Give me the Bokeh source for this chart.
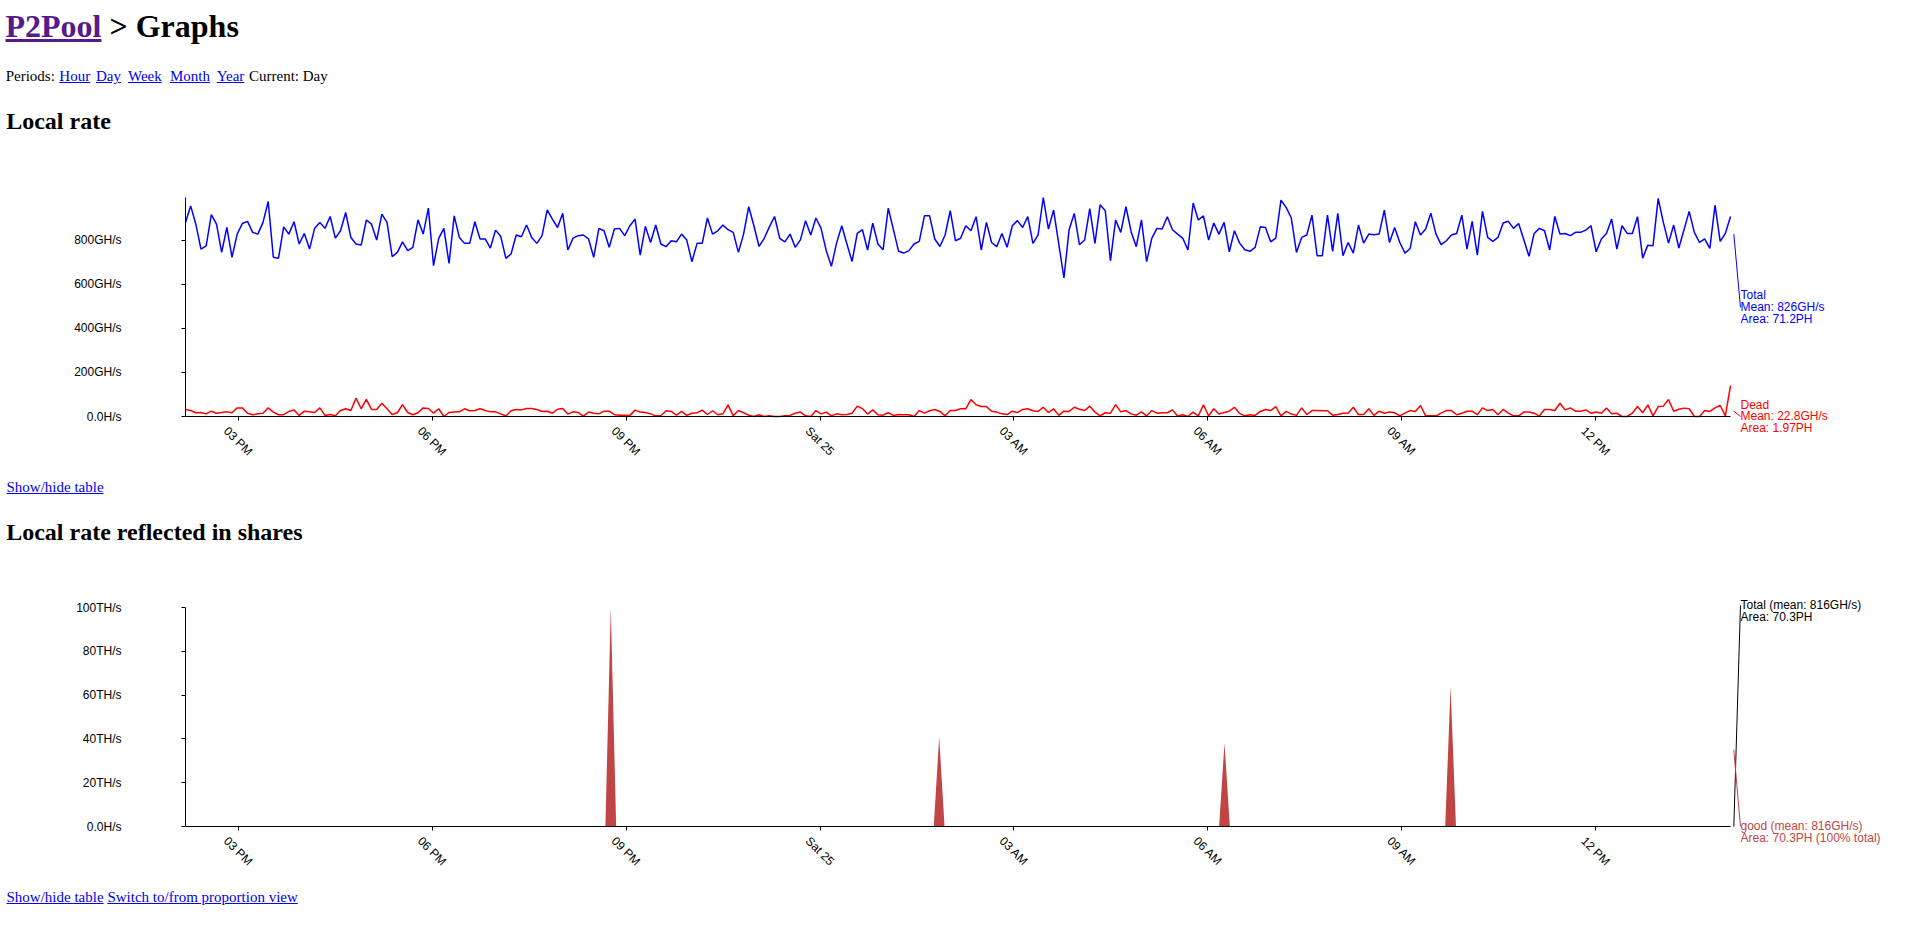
import math
import numpy as np
from bokeh.plotting import figure
from bokeh.models import Range1d, FixedTicker, Label, Div
from bokeh.layouts import column
from bokeh.embed import file_html
from bokeh.resources import INLINE

# ---------------- data ----------------
# time axis: hours counted from Friday 00:00
time_ticks = [15, 18, 21, 24, 27, 30, 33, 36]
time_tick_labels = ["03 PM", "06 PM", "09 PM", "Sat 25", "03 AM", "06 AM", "09 AM", "12 PM"]
first_hour = 14.185
last_hour = 38.084
tail_hours = [38.135, 38.238]

# Local rate (GH/s)
rate_ticks = [0, 200, 400, 600, 800]
rate_tick_labels = ["0.0H/s", "200GH/s", "400GH/s", "600GH/s", "800GH/s"]
total_rate = [
    880, 955, 872, 759, 774, 915, 872, 744, 857, 722,
    827, 875, 885, 835, 827, 880, 975, 722, 718, 860,
    827, 883, 782, 830, 759, 854, 880, 853, 907, 809,
    842, 925, 812, 782, 777, 891, 872, 800, 918, 880,
    725, 744, 792, 752, 767, 892, 827, 945, 684, 808,
    853, 694, 910, 812, 785, 785, 883, 805, 805, 764,
    845, 817, 717, 737, 823, 815, 868, 812, 785, 820,
    937, 895, 857, 921, 755, 809, 820,
    823, 805, 722, 853, 842, 767, 850, 853, 820, 865,
    895, 732, 862, 789, 868, 782, 770, 797, 792, 827,
    800, 702, 785, 785, 900, 827, 842, 868, 847, 835,
    744, 827, 951, 865, 771, 808, 860, 907, 808, 792,
    827, 767, 801, 888, 823, 900, 853, 752, 681, 786,
    865, 782, 703, 830, 847, 755, 877, 782, 756, 945,
    847, 749, 741, 752, 782, 794, 910, 910, 805, 771,
    823, 933, 797, 808, 865,
    842, 906, 755, 880, 789, 770, 830, 767, 865, 888,
    857, 906, 785, 824, 993, 850, 936, 782, 628, 847,
    921, 779, 800, 943, 785, 960, 933, 706, 891, 835,
    951, 838, 770, 892, 702, 808, 853, 850, 906, 847,
    827, 808, 755, 968, 891, 910, 800, 877, 827, 880,
    747, 842, 786, 756, 749, 767, 860, 857, 792, 809,
    981, 948, 900, 744, 812, 823, 913, 729, 729, 913,
    749, 921, 729, 789,
    741, 868, 786, 827, 824, 827, 936, 789, 857, 789,
    741, 762, 883, 823, 850, 922, 827, 779, 797, 823,
    830, 913, 759, 885, 732, 930, 812, 794, 812, 877,
    885, 853, 875, 801, 726, 830, 853, 842, 755, 907,
    827, 830, 820, 835, 835, 845, 865, 747, 805, 830,
    895, 759, 865, 830, 830, 906, 718, 777, 774, 989,
    880, 786, 868, 764, 847, 930, 835, 789, 805, 762,
    958, 794, 830, 907,
]
dead_rate = [
    32, 27, 17, 18, 12, 24, 15, 18, 21, 17,
    39, 39, 15, 8, 12, 15, 39, 20, 8, 8,
    23, 30, 5, 24, 21, 18, 39, 5, 9, 3,
    27, 35, 27, 83, 35, 78, 32, 32, 60, 35,
    9, 17, 54, 18, 8, 17, 39, 36, 15, 35,
    0, 18, 20, 21, 35, 26, 27, 35, 27, 21,
    21, 12, 2, 26, 32, 30, 36, 36, 32, 23,
    24, 15, 33, 36, 11, 21, 18,
    2, 20, 15, 12, 24, 24, 8, 6, 6, 5,
    29, 20, 18, 12, 3, 3, 26, 23, 6, 23,
    5, 15, 17, 29, 9, 26, 8, 12, 53, 3,
    27, 17, 6, 0, 8, 0, 3, 0, 0, 3,
    5, 15, 20, 3, 0, 27, 12, 20, 3, 12,
    8, 9, 15, 47, 36, 11, 30, 8, 6, 17,
    5, 9, 8, 8, 0, 27, 15, 26, 32, 23,
    3, 27, 27, 35, 35,
    77, 53, 45, 45, 24, 20, 12, 9, 24, 18,
    32, 35, 26, 23, 42, 18, 35, 5, 24, 23,
    42, 33, 27, 47, 20, 3, 17, 15, 54, 21,
    27, 12, 6, 21, 3, 27, 15, 17, 17, 30,
    2, 8, 0, 20, 3, 53, 2, 35, 11, 18,
    24, 42, 14, 3, 8, 5, 23, 32, 27, 45,
    3, 23, 11, 5, 39, 9, 27, 27, 26, 26,
    6, 9, 15, 15,
    42, 9, 9, 35, 5, 24, 15, 20, 17, 3,
    15, 27, 23, 50, 3, 3, 3, 15, 27, 27,
    8, 15, 24, 24, 8, 39, 27, 32, 8, 32,
    15, 3, 3, 20, 20, 15, 2, 32, 32, 27,
    60, 30, 39, 24, 24, 30, 15, 20, 15, 38,
    12, 15, 0, 0, 15, 45, 17, 53, 3, 45,
    47, 77, 24, 33, 38, 35, 0, 0, 27, 23,
    39, 50, 3, 140,
]
total_tail = [827, 495]
dead_tail = [24, 0]
rate_labels_total = ["Total", "Mean: 826GH/s", "Area: 71.2PH"]
rate_labels_dead = ["Dead", "Mean: 22.8GH/s", "Area: 1.97PH"]

# Local rate reflected in shares (TH/s)
share_ticks = [0, 20, 40, 60, 80, 100]
share_tick_labels = ["0.0H/s", "20TH/s", "40TH/s", "60TH/s", "80TH/s", "100TH/s"]
share_points = 288
good_spike_hours = [20.77, 25.85, 30.27, 33.73]
good_spike_rates = [100.0, 41.0, 38.0, 64.0]
share_total_tail = [0, 101]
share_good_tail = [35, 0]
share_labels_total = ["Total (mean: 816GH/s)", "Area: 70.3PH"]
share_labels_good = ["good (mean: 816GH/s)", "Area: 70.3PH (100% total)"]

# ---------------- style / geometry ----------------
SANS = "Liberation Sans"
SERIF = "Liberation Serif"
BLUE = "#0000ff"
RED = "#ff0000"
GOOD = "#c04545"
W = 1898            # canvas width (page x 0..1898)
H = 320             # canvas height of each chart
LEFT = 185          # frame left (y axis position)
BOTTOM_PAD = 10     # space below frame
PLOT_H = 219        # pixels between zero line and data maximum
PX_PER_HOUR = 64.648


def chart(y_max, zero_from_top, yticks, ylabels):
    # zero_from_top: pixel distance from canvas top to the zero line
    frame_h = H - BOTTOM_PAD
    per_px = y_max / PLOT_H
    y_hi = zero_from_top * per_px
    y_lo = -(frame_h - zero_from_top) * per_px
    x_hi = first_hour + (W - LEFT) / PX_PER_HOUR
    p = figure(width=W, height=H, output_backend="svg", toolbar_location=None, tools="",
               title=None,
               x_range=Range1d(first_hour, x_hi), y_range=Range1d(y_lo, y_hi),
               min_border_left=LEFT, min_border_right=0, min_border_top=0,
               min_border_bottom=BOTTOM_PAD, outline_line_color=None,
               background_fill_color="white", border_fill_color="white")
    p.margin = (0, 0, 0, 0)
    p.grid.visible = False
    xa = p.xaxis[0]
    xa.fixed_location = 0
    xa.ticker = FixedTicker(ticks=time_ticks, minor_ticks=[])
    xa.bounds = (first_hour, last_hour)
    xa.major_label_text_color = None
    xa.major_label_text_font_size = "0px"
    xa.major_label_standoff = 0
    xa.major_tick_in = 0
    xa.major_tick_out = 4
    xa.minor_tick_line_color = None
    xa.axis_line_color = "black"
    xa.major_tick_line_color = "black"
    ya = p.yaxis[0]
    ya.ticker = FixedTicker(ticks=yticks, minor_ticks=[])
    ya.major_label_overrides = {t: l for t, l in zip(yticks, ylabels)}
    ya.bounds = (0, y_max)
    ya.major_tick_in = 0
    ya.major_tick_out = 4
    ya.minor_tick_line_color = None
    ya.axis_line_color = "black"
    ya.major_tick_line_color = "black"
    ya.major_label_standoff = 60
    ya.major_label_text_font = SANS
    ya.major_label_text_font_size = "12px"
    ya.major_label_text_color = "black"
    # rotated time labels
    for t, lab in zip(time_ticks, time_tick_labels):
        p.add_layout(Label(x=t, y=0, text=lab, angle=-math.pi / 4, x_offset=-12.4,
                           y_offset=-12.4, text_align="left", text_baseline="alphabetic",
                           text_font=SANS, text_font_size="12px", text_color="black"))
    return p


def side_labels(p, y, lines, color, offsets):
    for txt, off in zip(lines, offsets):
        p.add_layout(Label(x=tail_hours[-1], y=y, text=txt, x_offset=0, y_offset=off,
                           text_align="left", text_baseline="alphabetic",
                           text_font=SANS, text_font_size="12px", text_color=color))


# chart 1: local rate (canvas page y 150..470, zero line at page y 416)
p1 = chart(max(total_rate), 416 - 150, rate_ticks, rate_tick_labels)
x1 = np.linspace(first_hour, last_hour, len(total_rate))
x1d = np.linspace(first_hour, last_hour, len(dead_rate))
p1.line(x1, total_rate, line_color=BLUE, line_width=1.5)
p1.line(x1d, dead_rate, line_color=RED, line_width=1.5)
p1.line(tail_hours, total_tail, line_color=BLUE, line_width=1)
p1.line(tail_hours, dead_tail, line_color=RED, line_width=1)
side_labels(p1, total_tail[-1], rate_labels_total, BLUE, [12, 0.3, -11.5])
side_labels(p1, dead_tail[-1], rate_labels_dead, RED, [12, 0.3, -11.5])

# chart 2: local rate reflected in shares (canvas page y 560..880, zero at 826)
p2 = chart(max(good_spike_rates), 826 - 560, share_ticks, share_tick_labels)
x2 = np.linspace(first_hour, last_hour, share_points)
good = np.zeros(share_points)
for h, v in zip(good_spike_hours, good_spike_rates):
    good[int(np.argmin(np.abs(x2 - h)))] = v
p2.varea(x=x2, y1=np.zeros(share_points), y2=good, fill_color=GOOD)
p2.line(tail_hours, share_total_tail, line_color="black", line_width=1)
p2.line(tail_hours, share_good_tail, line_color=GOOD, line_width=1)
side_labels(p2, share_total_tail[-1], share_labels_total, "black", [0.2, -11.5])
side_labels(p2, share_good_tail[-1], share_labels_good, GOOD, [0.2, -11.5])


# ---------------- HTML parts ----------------
def item(x, y, html, size, bold=False):
    return ('<div style="position:absolute;left:%spx;top:%spx;white-space:nowrap;'
            'line-height:1;font-family:\'%s\';font-size:%spx;font-weight:%s;color:#000">%s</div>'
            % (x, y, SERIF, size, "bold" if bold else "normal", html))


def link(txt, color="#0000ee"):
    return '<a href="#" style="color:%s;text-decoration:underline">%s</a>' % (color, txt)


def block(items, height):
    html = '<div style="position:relative;width:%dpx;height:%dpx">%s</div>' % (W, height, "".join(items))
    return Div(text=html, width=W, height=height, margin=(0, 0, 0, 0))


head = block([
    item(5.5, 9.9, link("P2Pool", "#551a8b") + " &gt; Graphs", 32, True),
    item(5.7, 69.4, "Periods:", 15),
    item(59.3, 69.4, link("Hour"), 15),
    item(96, 69.4, link("Day"), 15),
    item(128, 69.4, link("Week"), 15),
    item(170, 69.4, link("Month"), 15),
    item(216.7, 69.4, link("Year"), 15),
    item(249, 69.4, "Current: Day", 15),
    item(6.2, 109.2, "Local rate", 24, True),
], 150)

mid = block([
    item(6.5, 10.1, link("Show/hide table"), 15),
    item(6.2, 49.9, "Local rate reflected in shares", 24, True),
], 90)

foot = block([
    item(6.5, 10.4, link("Show/hide table"), 15),
    item(107.4, 10.4, link("Switch to/from proportion view"), 15),
], 34)

page = column(head, p1, mid, p2, foot, spacing=0)
open("out.html", "w").write(file_html(page, INLINE))
